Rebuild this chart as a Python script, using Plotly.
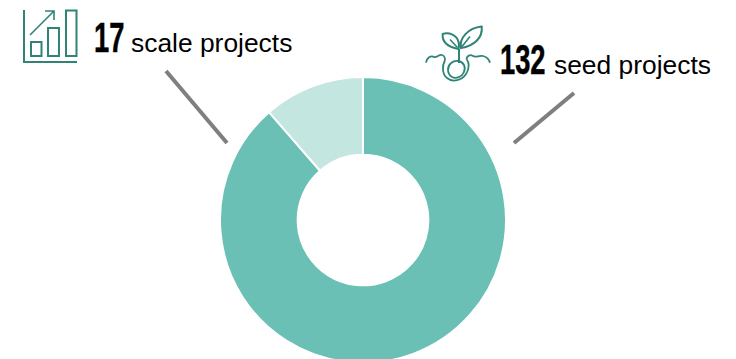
import plotly.graph_objects as go

# Project counts by stage
stages = ["seed projects", "scale projects"]
counts = [132, 17]
stage_colors = ["#6ac0b4", "#c4e6e0"]

WIDTH, HEIGHT = 736, 366
ICON = "#2f8377"
LEADER = "#7f7f7f"


def px(x):
    return x / WIDTH


def py(y):
    return 1 - y / HEIGHT


def pixel_path(d):
    """Convert an SVG path written in page pixels to paper coordinates."""
    out, is_x = [], True
    for tok in d.split():
        if tok.isalpha():
            out.append(tok)
            is_x = True
        else:
            v = float(tok)
            out.append(f"{px(v):.5f}" if is_x else f"{py(v):.5f}")
            is_x = not is_x
    return " ".join(out)


def icon_shape(d, width=2):
    return dict(type="path", xref="paper", yref="paper", path=pixel_path(d),
                line=dict(color=ICON, width=width), fillcolor="rgba(0,0,0,0)")


def leader(x0, y0, x1, y1):
    return dict(type="line", xref="paper", yref="paper",
                x0=px(x0), y0=py(y0), x1=px(x1), y1=py(y1),
                line=dict(color=LEADER, width=4))


shapes = [
    leader(166, 71, 227, 143),
    leader(574, 93, 514, 143),
    # bar chart icon
    icon_shape("M 24 10 L 24 62 L 77 62"),
    icon_shape("M 31 42 L 41.5 42 L 41.5 56 L 31 56 Z"),
    icon_shape("M 48 28 L 59 28 L 59 56 L 48 56 Z"),
    icon_shape("M 66 10.5 L 76.5 10.5 L 76.5 56 L 66 56 Z"),
    icon_shape("M 30 35 L 54 11 M 45 11 L 54 11 L 54 20", width=1.6),
    # sprout icon: leaves and stem
    icon_shape("M 458.5 49 C 448 47 442 42 442.7 34 C 449 32 457 35 458.5 42 "
               "C 459.5 44 459 47 458.5 49 Z"),
    icon_shape("M 461 48 C 459 38 468 28 481.7 26.5 C 483 38 474 46 461 48 Z"),
    icon_shape("M 450 39.5 L 457.5 47.5", width=1.6),
    icon_shape("M 470 36.5 L 462 46.5", width=1.6),
    icon_shape("M 459 49 L 459 63", width=2),
    # sprout icon: seed and ground
    icon_shape("M 448 70 C 448 64 453 60.5 458 61 C 464 62 466 67 464 72 "
               "C 462 77 456 79 452 77 C 449 75 448 73 448 70 Z", width=1.8),
    icon_shape("M 445 60 C 442 66 442 74 447 78 C 453 83 462 80 466 74 "
               "C 470 68 469 62 466.5 59", width=1.8),
    icon_shape("M 426 62.7 C 426.5 58 431 55 434 57 C 437 58 439 54 442 55 "
               "C 444 55.5 445 57 445 60", width=1.8),
    icon_shape("M 466.5 59 C 467 56 470 54 473 56 C 476 58 479 55 483 56 "
               "C 487 57 489 59 490 62.7", width=1.8),
]

fig = go.Figure(go.Pie(
    labels=stages,
    values=counts,
    hole=0.457,
    sort=False,
    direction="clockwise",
    rotation=0,
    textinfo="none",
    showlegend=False,
    marker=dict(colors=stage_colors, line=dict(color="#ffffff", width=2)),
    domain=dict(x=[px(363 - 143), px(363 + 143)], y=[py(363), py(77)]),
))


def label(x, y, text, size, bold=False):
    return dict(xref="paper", yref="paper", x=px(x), y=py(y), text=text,
                showarrow=False, xanchor="left", yanchor="middle",
                font=dict(family="Liberation Sans", size=size, color="#000000",
                          weight=700 if bold else 400))


annotations = [
    label(92, 37, str(counts[1]), 42, bold=True),
    label(129, 43, stages[1], 26.4),
    label(497.5, 59.5, str(counts[0]), 42, bold=True),
    label(552, 65, stages[0], 26.4),
]

fig.update_layout(
    width=WIDTH, height=HEIGHT,
    margin=dict(l=0, r=0, t=0, b=0),
    paper_bgcolor="#ffffff",
    shapes=shapes,
    annotations=annotations,
)

# Narrow the big count labels to a condensed look and hide page overflow
post = """
document.documentElement.style.overflow = 'hidden';
document.body.style.overflow = 'hidden';
document.querySelectorAll('.annotation-text').forEach(function (t) {
  if (/^[0-9]+$/.test(t.textContent.trim())) {
    var x = t.getBBox().x;
    t.setAttribute('transform', 'translate(' + x + ',0) scale(0.65,1) translate(' + (-x) + ',0)');
    t.style.stroke = '#000';
    t.style.strokeWidth = '0.5px';
  }
});
"""
fig.write_html("out.html", post_script=post)
